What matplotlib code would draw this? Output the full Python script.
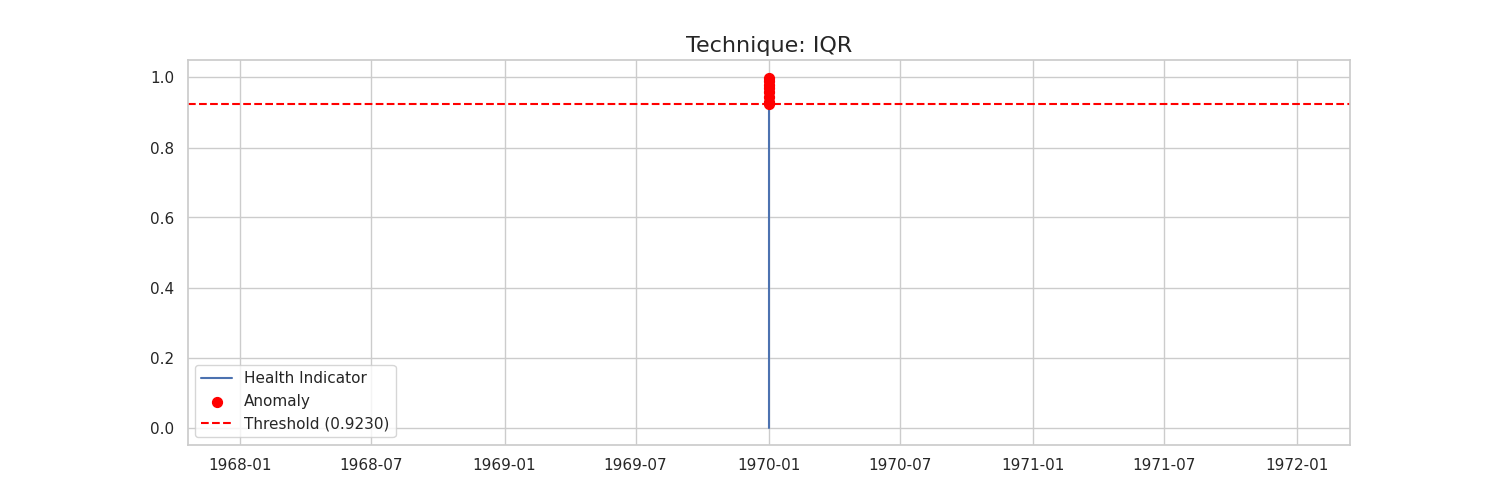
import numpy as np
import pandas as pd
import matplotlib
matplotlib.use("Agg")
import matplotlib.pyplot as plt
import seaborn as sns

sns.set_theme(style="whitegrid")

# health indicator values (timestamps all collapse onto 1970-01-01)
health = [0.0, 0.12, 0.25, 0.38, 0.53, 0.61, 0.70, 0.78, 0.85, 0.90,
          0.923, 0.93, 0.945, 0.96, 0.97, 0.98, 0.99, 1.0]
threshold = 0.9230

times = pd.to_datetime(np.zeros(len(health), dtype="int64"))
hi = pd.Series(health, index=times)
anom = hi[hi >= threshold]

fig, ax = plt.subplots(figsize=(15, 5))
ax.plot(hi.index, hi.values, label="Health Indicator")
ax.scatter(anom.index, anom.values, color="red", s=50, label="Anomaly", zorder=3)
ax.axhline(threshold, color="red", linestyle="--", label=f"Threshold ({threshold:.4f})")
ax.set_title("Technique: IQR", fontsize=16)
ax.legend(loc="lower left")
plt.savefig("out.png", dpi=100)
